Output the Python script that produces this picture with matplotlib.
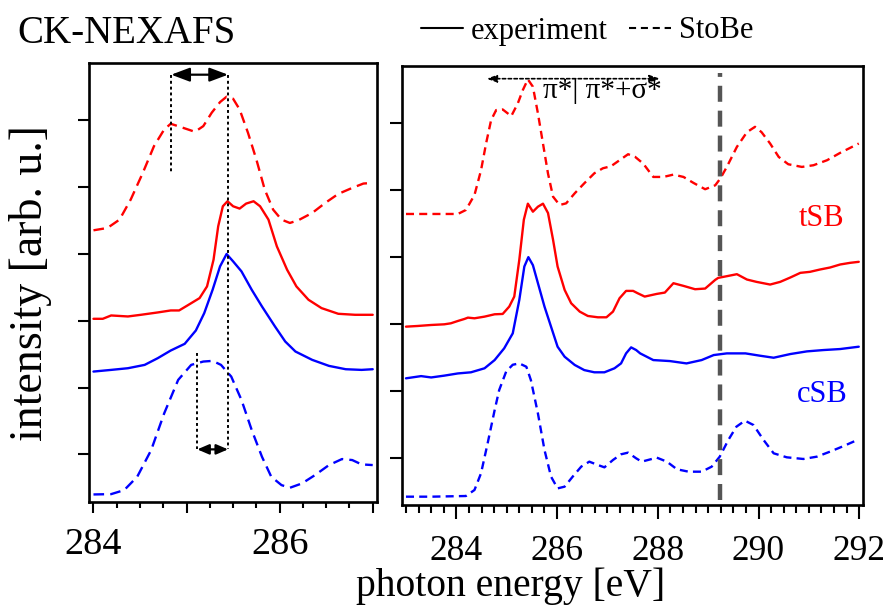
import matplotlib
matplotlib.use("Agg")
import matplotlib.pyplot as plt
from matplotlib.lines import Line2D
from matplotlib.ticker import MultipleLocator, FixedLocator, NullFormatter

plt.rcParams['font.family'] = ['Liberation Serif', 'DejaVu Serif']
plt.rcParams['lines.solid_joinstyle'] = 'round'
plt.rcParams['lines.dash_joinstyle'] = 'round'
plt.rcParams['lines.solid_capstyle'] = 'round'

# ---------------- data ----------------
# left panel (zoom on pi* resonance)
L_tsb_calc_E = [284.0, 284.15, 284.28, 284.40, 284.53, 284.65, 284.76, 284.83, 284.94, 285.09,
                285.18, 285.27, 285.36, 285.43, 285.50, 285.57, 285.66, 285.75, 285.84, 285.93,
                286.02, 286.11, 286.20, 286.35, 286.49, 286.63, 286.78, 286.90, 287.0]
L_tsb_calc_I = [4.355, 4.39, 4.515, 4.815, 5.215, 5.615, 5.865, 5.95, 5.90, 5.83,
                5.915, 6.115, 6.275, 6.355, 6.325, 6.165, 5.815, 5.415, 4.965, 4.665,
                4.515, 4.465, 4.505, 4.615, 4.765, 4.90, 4.99, 5.055, 5.065]

L_tsb_exp_E = [284.0, 284.10, 284.19, 284.37, 284.51, 284.69, 284.83, 284.92, 285.01, 285.14,
               285.22, 285.29, 285.34, 285.39, 285.44, 285.50, 285.57, 285.64, 285.72, 285.79,
               285.88, 285.97, 286.08, 286.18, 286.31, 286.45, 286.63, 286.81, 287.0]
L_tsb_exp_I = [3.03, 3.03, 3.08, 3.065, 3.09, 3.125, 3.155, 3.155, 3.23, 3.34,
               3.515, 3.915, 4.415, 4.715, 4.79, 4.715, 4.68, 4.755, 4.79, 4.715,
               4.515, 4.115, 3.765, 3.515, 3.315, 3.19, 3.105, 3.09, 3.09]

L_csb_exp_E = [284.0, 284.19, 284.37, 284.55, 284.69, 284.83, 284.98, 285.10, 285.19, 285.28,
               285.36, 285.43, 285.50, 285.59, 285.70, 285.81, 285.95, 286.06, 286.17, 286.35,
               286.53, 286.71, 286.88, 287.0]
L_csb_exp_I = [2.24, 2.265, 2.29, 2.34, 2.44, 2.555, 2.655, 2.855, 3.115, 3.465,
               3.815, 4.0, 3.89, 3.74, 3.465, 3.215, 2.915, 2.69, 2.54, 2.415,
               2.325, 2.275, 2.265, 2.275]

L_csb_calc_E = [284.0, 284.19, 284.33, 284.47, 284.62, 284.76, 284.91, 285.05, 285.18, 285.28,
                285.37, 285.48, 285.59, 285.70, 285.81, 285.91, 286.02, 286.11, 286.24, 286.38,
                286.53, 286.67, 286.78, 286.88, 287.0]
L_csb_calc_I = [0.40, 0.405, 0.465, 0.665, 1.065, 1.615, 2.115, 2.34, 2.39, 2.40,
                2.34, 2.165, 1.815, 1.365, 0.965, 0.665, 0.54, 0.50, 0.565, 0.69,
                0.84, 0.93, 0.915, 0.85, 0.84]

# right panel (full range)
R_tsb_calc_E = [283.0, 283.5, 284.03, 284.19, 284.36, 284.49, 284.59, 284.69, 284.79, 284.92,
                285.09, 285.22, 285.32, 285.42, 285.52, 285.62, 285.72, 285.82, 285.92, 286.05,
                286.18, 286.35, 286.54, 286.74, 286.91, 287.07, 287.24, 287.41, 287.55, 287.71,
                287.91, 288.11, 288.31, 288.51, 288.71, 288.94, 289.14, 289.24, 289.37, 289.57,
                289.77, 289.93, 290.06, 290.23, 290.40, 290.59, 290.86, 291.09, 291.36, 291.62,
                291.99]
R_tsb_calc_I = [4.646, 4.646, 4.646, 4.706, 4.93, 5.30, 5.70, 6.05, 6.20, 6.21,
                6.11, 6.30, 6.50, 6.66, 6.55, 6.15, 5.70, 5.25, 4.905, 4.78,
                4.805, 4.955, 5.105, 5.255, 5.33, 5.36, 5.45, 5.54, 5.50, 5.40,
                5.20, 5.20, 5.235, 5.20, 5.11, 5.016, 5.075, 5.175, 5.35, 5.65,
                5.87, 5.95, 5.87, 5.70, 5.50, 5.39, 5.35, 5.375, 5.45, 5.56,
                5.70]

R_tsb_exp_E = [283.0, 283.23, 283.50, 283.76, 283.89, 284.03, 284.16, 284.23, 284.36, 284.56,
               284.76, 284.92, 285.05, 285.15, 285.25, 285.34, 285.42, 285.52, 285.62, 285.72,
               285.82, 285.92, 286.01, 286.15, 286.28, 286.45, 286.61, 286.81, 286.98, 287.11,
               287.24, 287.37, 287.51, 287.60, 287.74, 287.98, 288.14, 288.31, 288.51, 288.74,
               288.94, 289.14, 289.20, 289.37, 289.57, 289.77, 289.96, 290.23, 290.43, 290.63,
               290.83, 291.02, 291.22, 291.42, 291.62, 291.82, 291.99]
R_tsb_exp_I = [2.96, 2.97, 2.985, 2.995, 3.01, 3.045, 3.075, 3.095, 3.085, 3.11,
               3.145, 3.15, 3.26, 3.41, 3.96, 4.56, 4.80, 4.68, 4.755, 4.80,
               4.66, 4.26, 3.86, 3.51, 3.31, 3.185, 3.12, 3.10, 3.10, 3.185,
               3.385, 3.495, 3.495, 3.46, 3.41, 3.45, 3.47, 3.61, 3.57, 3.52,
               3.53, 3.66, 3.69, 3.715, 3.745, 3.665, 3.63, 3.59, 3.63, 3.695,
               3.765, 3.78, 3.815, 3.845, 3.89, 3.915, 3.93]

R_csb_exp_E = [283.0, 283.30, 283.50, 283.76, 284.03, 284.29, 284.56, 284.76, 284.95, 285.12,
               285.25, 285.35, 285.43, 285.52, 285.62, 285.75, 285.88, 286.01, 286.15, 286.35,
               286.54, 286.74, 286.94, 287.14, 287.27, 287.37, 287.47, 287.57, 287.65, 287.91,
               288.24, 288.57, 288.87, 289.11, 289.37, 289.74, 290.03, 290.30, 290.63, 290.96,
               291.29, 291.62, 291.99]
R_csb_exp_I = [2.187, 2.22, 2.20, 2.227, 2.26, 2.277, 2.337, 2.46, 2.636, 2.86,
               3.36, 3.86, 4.0, 3.88, 3.61, 3.26, 2.96, 2.66, 2.51, 2.387,
               2.31, 2.277, 2.277, 2.337, 2.41, 2.56, 2.65, 2.61, 2.56, 2.46,
               2.445, 2.41, 2.46, 2.535, 2.56, 2.56, 2.525, 2.495, 2.55, 2.59,
               2.61, 2.625, 2.66]

R_csb_calc_E = [283.0, 283.5, 284.19, 284.36, 284.49, 284.62, 284.76, 284.85, 284.99, 285.12,
                285.25, 285.39, 285.48, 285.62, 285.75, 285.88, 286.01, 286.15, 286.31, 286.48,
                286.64, 286.81, 286.94, 287.11, 287.27, 287.41, 287.57, 287.68, 287.98, 288.18,
                288.38, 288.61, 288.87, 289.07, 289.23, 289.40, 289.56, 289.73, 289.90, 290.10,
                290.30, 290.56, 290.89, 291.16, 291.42, 291.69, 291.99]
R_csb_calc_I = [0.416, 0.416, 0.426, 0.516, 0.766, 1.21, 1.71, 2.01, 2.29, 2.39,
                2.41, 2.36, 2.16, 1.66, 1.115, 0.716, 0.54, 0.566, 0.716, 0.866,
                0.94, 0.89, 0.855, 0.965, 1.05, 1.075, 0.99, 0.94, 1.0, 0.94,
                0.826, 0.79, 0.79, 0.865, 1.015, 1.264, 1.463, 1.553, 1.488, 1.264,
                1.065, 1.005, 0.98, 1.015, 1.09, 1.174, 1.274]

# annotation values
shift_top = (284.835, 285.446)      # tSB calc peaks
shift_bottom = (285.115, 285.446)   # cSB calc peak vs exp
ionization_E = 289.23
pi_region = (284.60, 288.04)

left_ticklabels = ['284', '', '286', '']
right_ticklabels = ['284', '286', '288', '290', '292']

# ---------------- figure ----------------
W, H = 888, 606
fig = plt.figure(figsize=(W / 100, H / 100), dpi=100)

def fx(px):
    return px / W

def fy(py):
    return 1 - py / H

axL = fig.add_axes([fx(89), fy(502), fx(377) - fx(89), fy(63) - fy(502)])
axR = fig.add_axes([fx(401.7), fy(505.3), fx(863.3) - fx(401.7), fy(66) - fy(505.3)])

RED = '#ff0000'
BLUE = '#0000ff'
LW = 1.7

# left panel curves
axL.plot(L_tsb_calc_E, L_tsb_calc_I, color=RED, lw=LW, dashes=(4.5, 2.6))
axL.plot(L_tsb_exp_E, L_tsb_exp_I, color=RED, lw=LW)
axL.plot(L_csb_exp_E, L_csb_exp_I, color=BLUE, lw=LW)
axL.plot(L_csb_calc_E, L_csb_calc_I, color=BLUE, lw=LW, dashes=(4.5, 2.6))

# right panel curves
axR.plot(R_tsb_calc_E, R_tsb_calc_I, color=RED, lw=LW, dashes=(3.4, 2.2))
axR.plot(R_tsb_exp_E, R_tsb_exp_I, color=RED, lw=LW)
axR.plot(R_csb_exp_E, R_csb_exp_I, color=BLUE, lw=LW)
axR.plot(R_csb_calc_E, R_csb_calc_I, color=BLUE, lw=LW, dashes=(3.4, 2.2))

# ionization potential line
axR.axvline(ionization_E, ymin=0.012, ymax=0.984, color='#555555', lw=3.2,
            dashes=(3.6, 2.0), dash_capstyle='butt')

YLIM = (0.287, 6.86)
axL.set_xlim(283.952, 287.046)
axR.set_xlim(282.915, 292.08)
for ax in (axL, axR):
    ax.set_ylim(*YLIM)
    for s in ax.spines.values():
        s.set_linewidth(1.9)
    ax.yaxis.set_major_locator(FixedLocator([1, 2, 3, 4, 5, 6]))
    ax.yaxis.set_major_formatter(NullFormatter())
    ax.xaxis.set_minor_locator(MultipleLocator(0.25))
    ax.tick_params(which='both', direction='out', top=False, right=False, width=1.5)

axL.xaxis.set_major_locator(FixedLocator([284, 285, 286, 287]))
axL.set_xticklabels(left_ticklabels)
axL.tick_params(axis='x', which='major', length=8, pad=10, labelsize=27.5)
axL.tick_params(axis='x', which='minor', length=4.3)
axL.tick_params(axis='y', which='major', length=8)

axR.xaxis.set_major_locator(FixedLocator([284, 286, 288, 290, 292]))
axR.set_xticklabels(right_ticklabels)
axR.tick_params(axis='x', which='major', length=10, pad=11.5, labelsize=25.5)
axR.tick_params(axis='x', which='minor', length=5.5)
axR.tick_params(axis='y', which='major', length=8.5)

# left panel annotations: peak shifts
dot = (0, (1.5, 1.5))
y_top, y_bot = 6.685, 1.075
axL.plot([shift_top[0]] * 2, [y_top, 5.225], color='k', lw=1.4, linestyle=dot)
axL.plot([shift_top[1]] * 2, [y_top, y_bot], color='k', lw=1.4, linestyle=dot)
axL.plot([shift_bottom[0]] * 2, [2.525, y_bot], color='k', lw=1.4, linestyle=dot)
axL.annotate('', xy=(shift_top[0], y_top), xytext=(shift_top[1], y_top),
             arrowprops=dict(arrowstyle='<|-|>,head_length=0.8,head_width=0.3', color='k',
                             lw=1.6, shrinkA=0, shrinkB=0, mutation_scale=14))
axL.annotate('', xy=(shift_bottom[0], y_bot), xytext=(shift_bottom[1], y_bot),
             arrowprops=dict(arrowstyle='<|-|>,head_length=0.7,head_width=0.3', color='k',
                             lw=1.6, shrinkA=0, shrinkB=0, mutation_scale=10))

# right panel annotation: pi* / pi*+sigma* regions
axR.annotate('', xy=(pi_region[0], 6.67), xytext=(pi_region[1], 6.67),
             arrowprops=dict(arrowstyle='<|-|>,head_length=0.5,head_width=0.18', color='k',
                             lw=1.2, linestyle=(0, (2, 1.5)), shrinkA=0, shrinkB=0,
                             mutation_scale=12))
axR.text(285.716, 6.377, 'π*| π*+σ*', fontsize=21, ha='left', va='baseline')

axR.text(291.26, 4.58, 'tSB', color=RED, fontsize=22, ha='center', va='center')
axR.text(291.26, 1.94, 'cSB', color=BLUE, fontsize=22, ha='center', va='center')

# legend
handles = [Line2D([], [], color='k', lw=1.5),
           Line2D([], [], color='k', lw=1.5, dashes=(3.4, 2.3))]
fig.legend(handles, ['experiment', 'StoBe'], loc='center left',
           bbox_to_anchor=(fx(421), fy(31)), ncol=2, frameon=False, fontsize=22,
           borderpad=0, borderaxespad=0, handlelength=1.38, handletextpad=0.26,
           columnspacing=0.69)

# titles and labels
fig.text(fx(17), fy(43), 'CK-NEXAFS', fontsize=28, ha='left', va='baseline')
fig.text(fx(30), fy(283), 'intensity [arb. u.]', fontsize=33, rotation=90,
         ha='center', va='center')
fig.text(fx(511), fy(596), 'photon energy [eV]', fontsize=28.5, ha='center', va='baseline')

fig.savefig('out.png', dpi=100)
